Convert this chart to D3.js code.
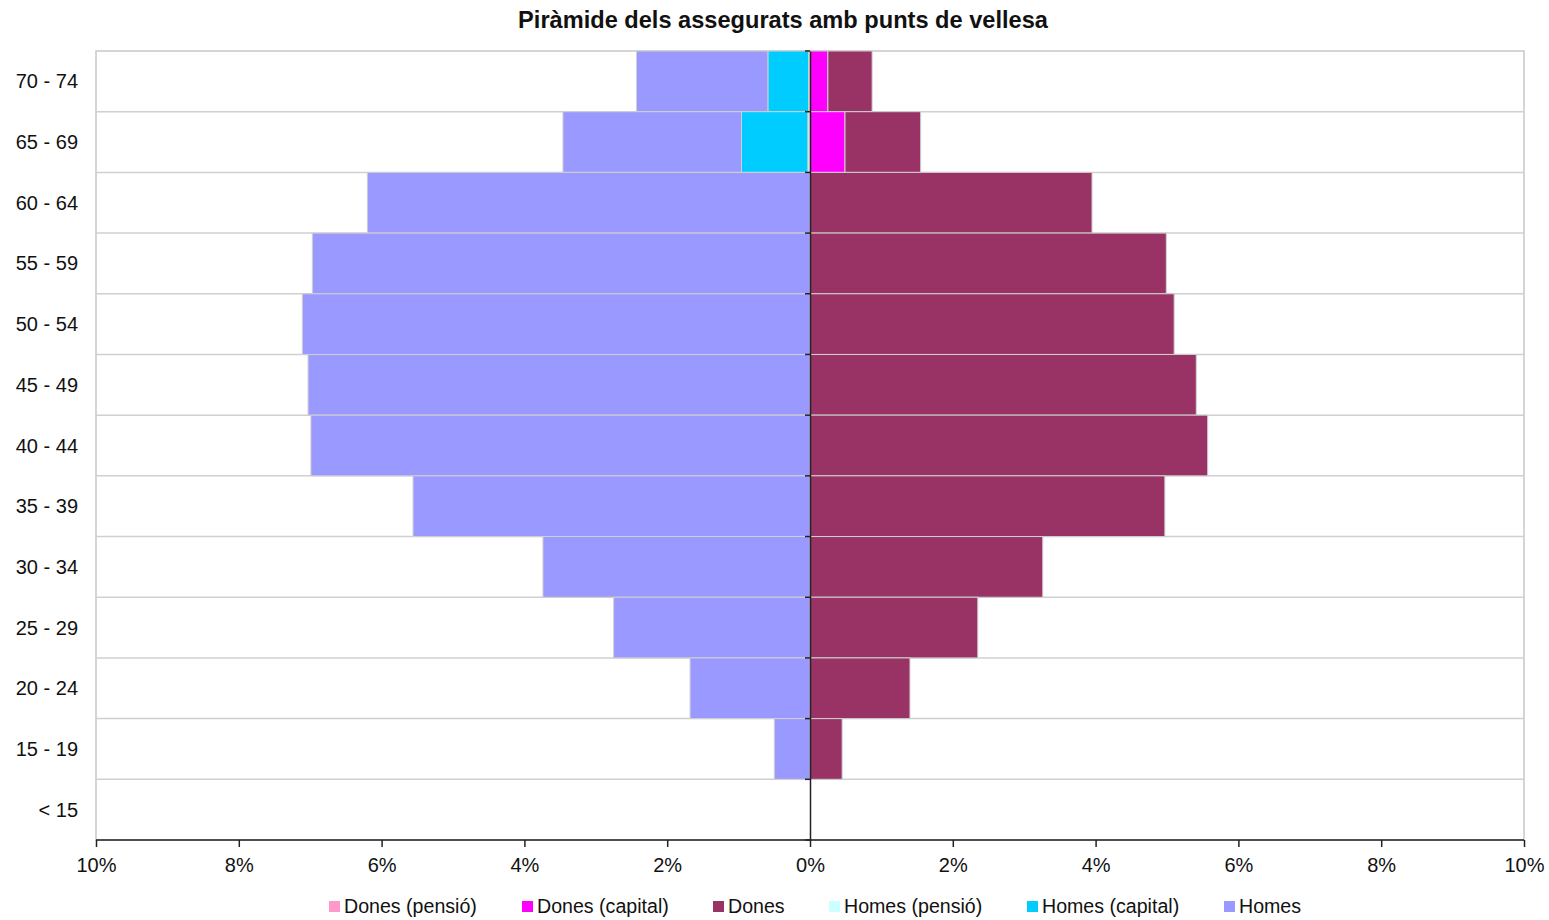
<!DOCTYPE html>
<html><head><meta charset="utf-8">
<script src="https://cdn.jsdelivr.net/npm/d3@7"></script>
<style>body{margin:0;background:#fff;font-family:"Liberation Sans",Arial,sans-serif;}</style>
</head><body><svg id="chart" width="1549" height="920"></svg>
<script>
const categories = ["70 - 74","65 - 69","60 - 64","55 - 59","50 - 54","45 - 49","40 - 44","35 - 39","30 - 34","25 - 29","20 - 24","15 - 19","< 15"];
const donesPensio  = [0,0,0,0,0,0,0,0,0,0,0,0,0];
const donesCapital = [0.25,0.49,0,0,0,0,0,0,0,0,0,0,0];
const dones        = [0.62,1.06,3.95,4.99,5.10,5.41,5.57,4.97,3.26,2.35,1.40,0.45,0];
const homesPensio  = [0.02,0.03,0,0,0,0,0,0,0,0,0,0,0];
const homesCapital = [0.57,0.93,0,0,0,0,0,0,0,0,0,0,0];
const homes        = [1.84,2.50,6.20,6.97,7.11,7.03,6.99,5.56,3.74,2.75,1.68,0.50,0];
const xTicks = [-10,-8,-6,-4,-2,0,2,4,6,8,10];
const seriesNames = ["Dones (pensió)","Dones (capital)","Dones","Homes (pensió)","Homes (capital)","Homes"];
const seriesColors = ["#FF99CC","#FF00FF","#993366","#CCFFFF","#00CCFF","#9999FF"];

const svg = d3.select("#chart");
const L=96,R=1524,T=51,B=840;
const x = d3.scaleLinear().domain([-10,10]).range([L,R]);
const y = d3.scaleBand().domain(categories).range([T,B]).padding(0);

svg.append("rect").attr("x",L).attr("y",T).attr("width",R-L).attr("height",B-T)
  .attr("fill","none").attr("stroke","#c8c8c8").attr("stroke-width",1.5);
categories.slice(1).forEach(c=>{
  svg.append("line").attr("x1",L).attr("x2",R).attr("y1",y(c)).attr("y2",y(c))
    .attr("stroke","#d0d0d0").attr("stroke-width",1.5);
});

const rows = categories.map((c,i)=>({cat:c, vals:[donesPensio[i],donesCapital[i],dones[i],homesPensio[i],homesCapital[i],homes[i]]}));
const segs=[];
rows.forEach(r=>{
  let acc=0;
  for(let k=0;k<3;k++){ const v=r.vals[k]; if(v>0) segs.push({cat:r.cat,x0:acc,x1:acc+v,color:seriesColors[k]}); acc+=v; }
  acc=0;
  for(let k=3;k<6;k++){ const v=r.vals[k]; if(v>0) segs.push({cat:r.cat,x0:-acc-v,x1:-acc,color:seriesColors[k]}); acc+=v; }
});
svg.append("g").selectAll("rect").data(segs).join("rect")
  .attr("x",d=>x(d.x0)).attr("width",d=>x(d.x1)-x(d.x0))
  .attr("y",d=>y(d.cat)).attr("height",y.bandwidth())
  .attr("fill",d=>d.color).attr("stroke","#d0d0d0").attr("stroke-width",1);

const yAxis = d3.axisLeft(y).tickSize(0).tickFormat("");
const yg = svg.append("g").attr("transform",`translate(${x(0)},0)`).call(yAxis);
yg.select(".domain").attr("stroke","#222").attr("stroke-width",1.5);
categories.forEach(c=>{
  yg.append("line").attr("x1",-5).attr("x2",0).attr("y1",y(c)).attr("y2",y(c)).attr("stroke","#222").attr("stroke-width",1.5);
});
yg.append("line").attr("x1",-5).attr("x2",0).attr("y1",B).attr("y2",B).attr("stroke","#222").attr("stroke-width",1.5);

svg.append("g").selectAll("text").data(categories).join("text")
  .attr("x",78).attr("y",d=>y(d)+y.bandwidth()/2).attr("dy","0.35em")
  .attr("text-anchor","end").attr("font-size",20).attr("fill","#111").text(d=>d);

const xAxis = d3.axisBottom(x).tickValues(xTicks).tickSize(7).tickFormat(d=>Math.abs(d)+"%");
const xg = svg.append("g").attr("transform",`translate(0,${B})`).call(xAxis);
xg.select(".domain").attr("stroke","#222").attr("stroke-width",1.5).attr("d",`M${L},0H${R}`);
xg.selectAll(".tick line").attr("stroke","#222").attr("stroke-width",1.5);
xg.selectAll(".tick text").attr("font-size",20).attr("fill","#111").attr("dy","0.71em").attr("y",18)
  .attr("font-family","'Liberation Sans',Arial,sans-serif");

svg.append("text").attr("x",783).attr("y",28).attr("text-anchor","middle")
  .attr("font-size",23.6).attr("font-weight","bold").attr("fill","#111")
  .text("Piràmide dels assegurats amb punts de vellesa");

const legX=[329,522,713,829,1027,1224];
const lg = svg.append("g");
seriesNames.forEach((n,i)=>{
  lg.append("rect").attr("x",legX[i]).attr("y",901).attr("width",11).attr("height",11).attr("fill",seriesColors[i]);
  lg.append("text").attr("x",legX[i]+15).attr("y",913).attr("font-size",19.6).attr("fill","#111").text(n);
});
</script></body></html>
